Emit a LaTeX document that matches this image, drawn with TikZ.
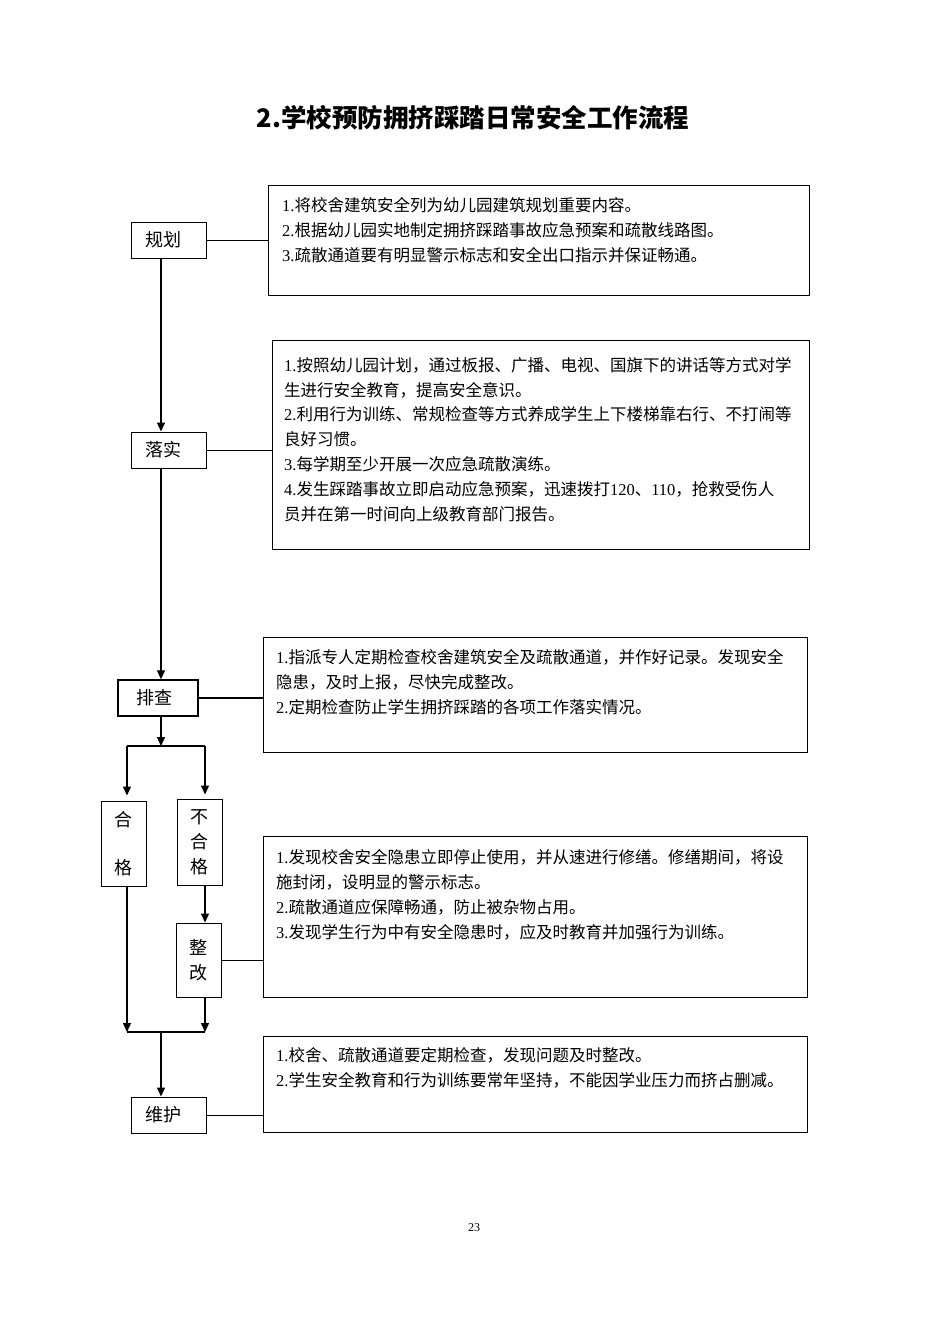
\documentclass[tikz,border=0pt]{standalone}
\usepackage{fontspec}
\setmainfont{Noto Sans CJK SC}
\newfontfamily\serifnum{Liberation Serif}
\newcommand\nm[1]{{\serifnum #1}}
\usetikzlibrary{arrows.meta}
\begin{document}
\begin{tikzpicture}[x=1pt,y=-1pt,
  lab/.style={draw,line width=1pt,inner sep=0pt,font=\fontsize{18}{25}\selectfont,align=center},
  bx/.style={draw,line width=0.9pt,inner sep=0pt},
  txt/.style={anchor=base west,inner sep=0pt,align=left,font=\fontsize{16.5}{24.8}\selectfont},
  arr/.style={-{Triangle[length=9pt,width=8pt]},line width=1.3pt},
  ln/.style={line width=0.9pt},
  bar/.style={line width=2.4pt}]
\useasboundingbox (0,0) rectangle (950,1344);

% title
\node[font=\fontsize{25.5}{28}\selectfont\bfseries] (title) at (473,118) {2.学校预防拥挤踩踏日常安全工作流程};

% step labels
\node[lab,minimum width=75pt,minimum height=36pt] (gh) at (168.5,240) {规划\hspace{10pt}};
\node[lab,minimum width=75pt,minimum height=36pt] (ls) at (168.5,450) {落实\hspace{10pt}};
\node[lab,minimum width=80pt,minimum height=36pt,line width=1.4pt] (pc) at (158,698) {排查\hspace{8pt}};
\node[lab,minimum width=45pt,minimum height=85pt,font=\fontsize{18}{48}\selectfont] (hg) at (123.5,843.5) {合\\格};
\node[lab,minimum width=45pt,minimum height=86pt] (bhg) at (199.5,842) {不\\合\\格};
\node[lab,minimum width=45pt,minimum height=74pt] (zg) at (198.5,960) {整\\改};
\node[lab,minimum width=75pt,minimum height=36pt] (wh) at (168.5,1115) {维护\hspace{10pt}};

% content boxes
\node[bx,minimum width=541pt,minimum height=110pt] (b1) at (538.5,240) {};
\node[bx,minimum width=537pt,minimum height=209pt] (b2) at (540.5,444.5) {};
\node[bx,minimum width=544pt,minimum height=115pt] (b3) at (535,694.5) {};
\node[bx,minimum width=544pt,minimum height=161pt] (b4) at (535,916.5) {};
\node[bx,minimum width=544pt,minimum height=96pt] (b5) at (535,1084) {};

% text anchored at the baseline of its last line
\node[txt] (t1) at (282,261) {\nm{1.}将校舍建筑安全列为幼儿园建筑规划重要内容。\\
\nm{2.}根据幼儿园实地制定拥挤踩踏事故应急预案和疏散线路图。\\
\nm{3.}疏散通道要有明显警示标志和安全出口指示并保证畅通。};

\node[txt] (t2) at (284,520) {\nm{1.}按照幼儿园计划，通过板报、广播、电视、国旗下的讲话等方式对学\\
生进行安全教育，提高安全意识。\\
\nm{2.}利用行为训练、常规检查等方式养成学生上下楼梯靠右行、不打闹等\\
良好习惯。\\
\nm{3.}每学期至少开展一次应急疏散演练。\\
\nm{4.}发生踩踏事故立即启动应急预案，迅速拨打\nm{120}、\nm{110}，抢救受伤人\\
员并在第一时间向上级教育部门报告。};

\node[txt] (t3) at (276,713) {\nm{1.}指派专人定期检查校舍建筑安全及疏散通道，并作好记录。发现安全\\
隐患，及时上报，尽快完成整改。\\
\nm{2.}定期检查防止学生拥挤踩踏的各项工作落实情况。};

\node[txt] (t4) at (276,938) {\nm{1.}发现校舍安全隐患立即停止使用，并从速进行修缮。修缮期间，将设\\
施封闭，设明显的警示标志。\\
\nm{2.}疏散通道应保障畅通，防止被杂物占用。\\
\nm{3.}发现学生行为中有安全隐患时，应及时教育并加强行为训练。};

\node[txt] (t5) at (276,1086) {\nm{1.}校舍、疏散通道要定期检查，发现问题及时整改。\\
\nm{2.}学生安全教育和行为训练要常年坚持，不能因学业压力而挤占删减。};

% page number
\node[font=\fontsize{12}{14}\selectfont\serifnum] (pg) at (474,1228) {23};

% helper coordinates
\coordinate (mx) at (161,0);
\coordinate (s1) at (161,746);
\coordinate (s1L) at (127,746);
\coordinate (s1R) at (205,746);
\coordinate (s2) at (161,1032);
\coordinate (s2L) at (127,1032);
\coordinate (s2R) at (205,1032);

% side connectors
\draw[ln] (gh.east) -- (gh.east -| b1.west);
\draw[ln] (ls.east) -- (ls.east -| b2.west);
\draw[line width=2pt] (pc.east) -- (pc.east -| b3.west);
\draw[ln] (zg.east) -- (zg.east -| b4.west);
\draw[ln] (wh.east) -- (wh.east -| b5.west);

% main flow
\draw[arr] (gh.south -| mx) -- (ls.north -| mx);
\draw[arr] (ls.south -| mx) -- (pc.north -| mx);
\draw[arr] (pc.south -| mx) -- (s1);
\draw[bar] (s1L) -- (s1R);
\draw[arr,shorten >=5pt] (s1L) -- (hg.north -| s1L);
\draw[arr,shorten >=4pt] (s1R) -- (bhg.north -| s1R);
\draw[arr] (bhg.south -| s1R) -- (zg.north -| s1R);
\draw[arr] (hg.south -| s2L) -- (s2L);
\draw[arr] (zg.south -| s2R) -- (s2R);
\draw[bar] (s2L) -- (s2R);
\draw[arr] (s2) -- (wh.north -| mx);
\end{tikzpicture}
\end{document}
